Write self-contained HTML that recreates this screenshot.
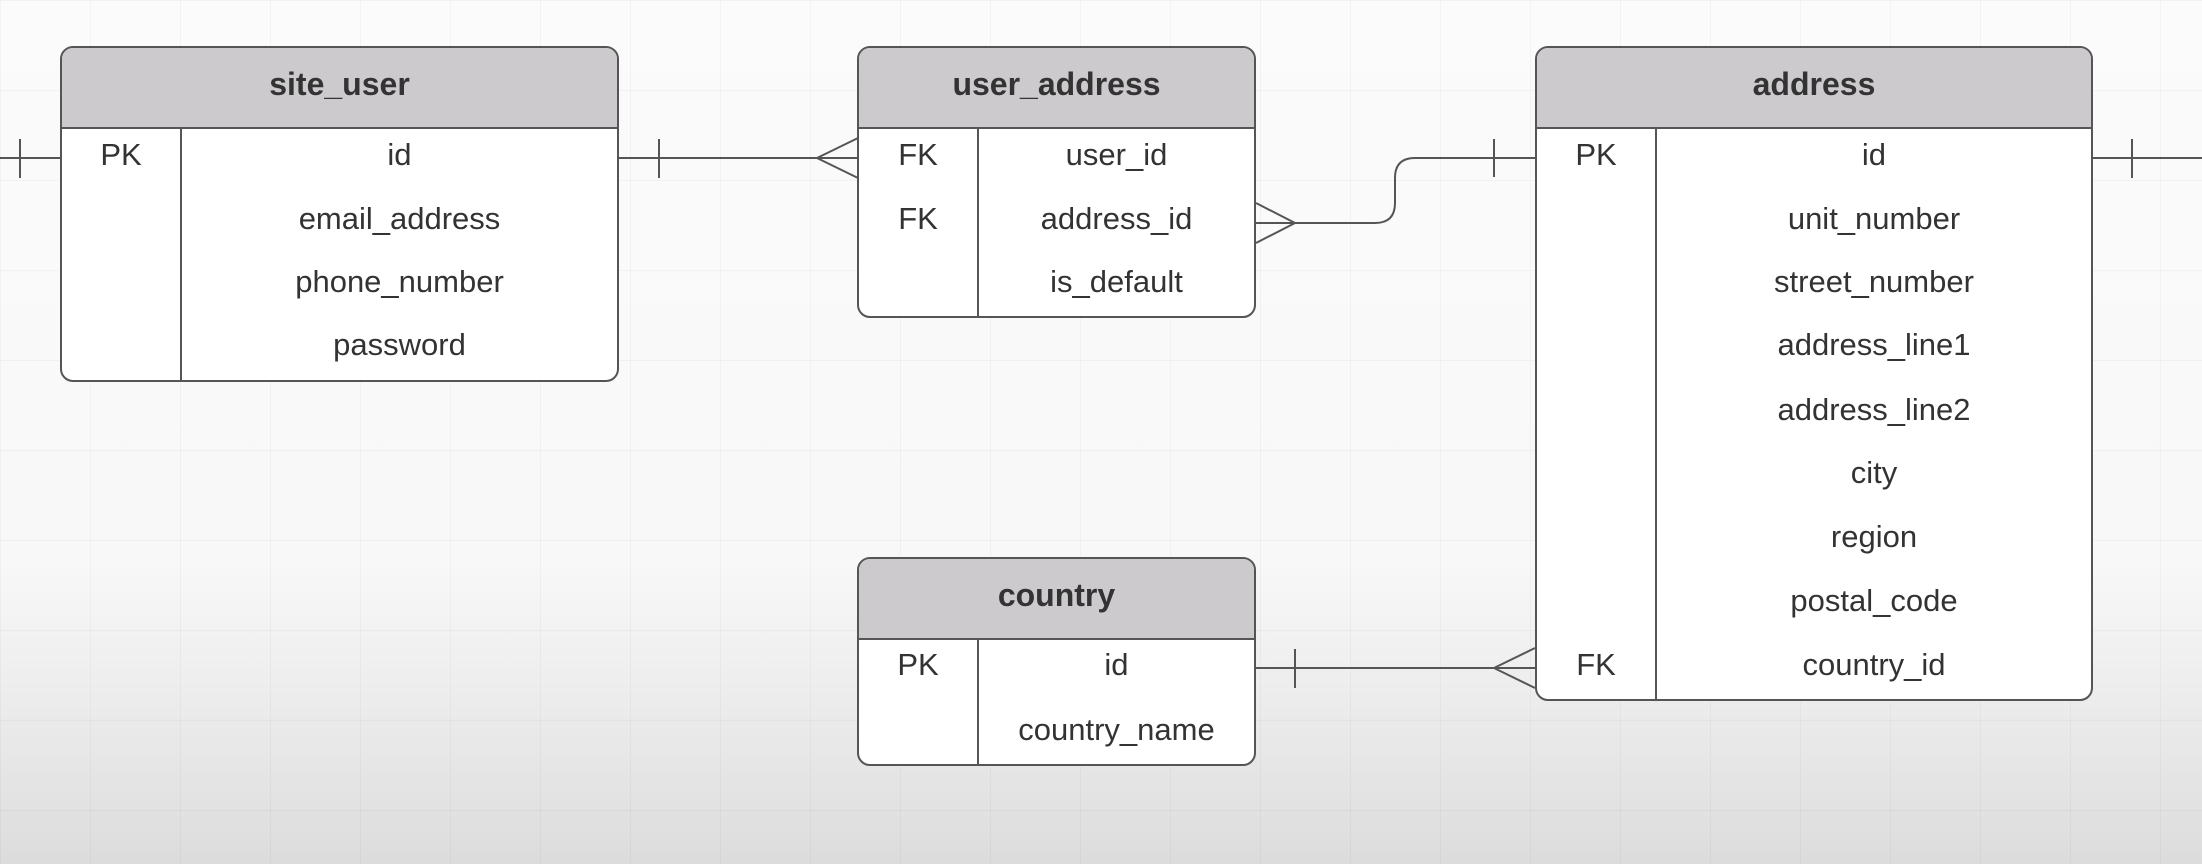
<!DOCTYPE html>
<html><head><meta charset="utf-8"><style>
html,body{margin:0;padding:0}
body{width:2202px;height:864px;overflow:hidden;position:relative;
background:linear-gradient(to bottom,#fbfbfb 0%,#f8f8f8 65%,#e9e9e9 85%,#dcdcdc 100%);
font-family:"Liberation Sans",sans-serif;color:#333}
.grid{position:absolute;inset:0;background-image:linear-gradient(to right,rgba(0,0,0,0.03) 1px,transparent 1px),linear-gradient(to bottom,rgba(0,0,0,0.03) 1px,transparent 1px);background-size:90px 90px}
.t{position:absolute;border:2px solid #555;border-radius:13px;background:#fff;box-sizing:border-box;overflow:hidden}
.h{background:#cdcacd;border-bottom:2px solid #555;height:79px;line-height:72px;text-align:center;font-weight:bold;font-size:32px}
.dv{position:absolute;top:79px;bottom:0;width:2px;background:#555}
.r{position:absolute;font-size:31px;transform:translateY(-50%)}
</style></head><body>
<div class="grid"></div>

<div class="t" style="left:60px;top:46px;width:559px;height:336px">
<div class="h">site_user</div><div class="dv" style="left:118px"></div>
<div class="r" style="left:0;width:118px;text-align:center;top:107px">PK</div>
<div class="r" style="left:120px;right:0;text-align:center;top:107px">id</div>
<div class="r" style="left:120px;right:0;text-align:center;top:171px">email_address</div>
<div class="r" style="left:120px;right:0;text-align:center;top:234px">phone_number</div>
<div class="r" style="left:120px;right:0;text-align:center;top:297px">password</div>
</div>

<div class="t" style="left:857px;top:46px;width:399px;height:272px">
<div class="h">user_address</div><div class="dv" style="left:118px"></div>
<div class="r" style="left:0;width:118px;text-align:center;top:107px">FK</div>
<div class="r" style="left:0;width:118px;text-align:center;top:171px">FK</div>
<div class="r" style="left:120px;right:0;text-align:center;top:107px">user_id</div>
<div class="r" style="left:120px;right:0;text-align:center;top:171px">address_id</div>
<div class="r" style="left:120px;right:0;text-align:center;top:234px">is_default</div>
</div>

<div class="t" style="left:1535px;top:46px;width:558px;height:655px">
<div class="h">address</div><div class="dv" style="left:118px"></div>
<div class="r" style="left:0;width:118px;text-align:center;top:107px">PK</div>
<div class="r" style="left:0;width:118px;text-align:center;top:617px">FK</div>
<div class="r" style="left:120px;right:0;text-align:center;top:107px">id</div>
<div class="r" style="left:120px;right:0;text-align:center;top:171px">unit_number</div>
<div class="r" style="left:120px;right:0;text-align:center;top:234px">street_number</div>
<div class="r" style="left:120px;right:0;text-align:center;top:297px">address_line1</div>
<div class="r" style="left:120px;right:0;text-align:center;top:362px">address_line2</div>
<div class="r" style="left:120px;right:0;text-align:center;top:425px">city</div>
<div class="r" style="left:120px;right:0;text-align:center;top:489px">region</div>
<div class="r" style="left:120px;right:0;text-align:center;top:553px">postal_code</div>
<div class="r" style="left:120px;right:0;text-align:center;top:617px">country_id</div>
</div>

<div class="t" style="left:857px;top:557px;width:399px;height:209px">
<div class="h">country</div><div class="dv" style="left:118px"></div>
<div class="r" style="left:0;width:118px;text-align:center;top:106px">PK</div>
<div class="r" style="left:120px;right:0;text-align:center;top:106px">id</div>
<div class="r" style="left:120px;right:0;text-align:center;top:171px">country_name</div>
</div>

<svg width="2202" height="864" style="position:absolute;left:0;top:0" fill="none" stroke="#555" stroke-width="2">
<path d="M0 158H60M20 139V178"/>
<path d="M619 158H858M659 139V178M817 158L858 138M817 158L858 178"/>
<path d="M1256 223H1375Q1395 223 1395 203V178Q1395 158 1415 158H1535M1494 139V177M1256 203L1295 223L1256 243"/>
<path d="M2093 158H2202M2132 139V178"/>
<path d="M1256 668H1535M1295 649V688M1494 668L1535 648M1494 668L1535 688"/>
</svg>
</body></html>
